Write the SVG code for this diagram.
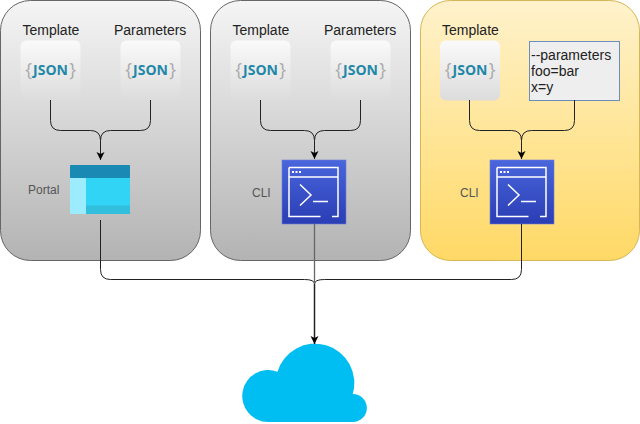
<svg xmlns="http://www.w3.org/2000/svg" xmlns:xlink="http://www.w3.org/1999/xlink" width="640" height="424" viewBox="0 0 640 424">
<style>
text{font-family:"Liberation Sans",Arial,sans-serif}
.lbl{font-size:14px;fill:#222}
.side{font-size:12px;fill:#555}
.panel{stroke:#666;stroke-width:1}
.card{fill:url(#gCard)}
.brace{font-family:"Open Sans",sans-serif;font-size:18px;fill:#aaa;text-anchor:middle}
.json{font-family:"Open Sans",sans-serif;font-size:14px;font-weight:700;fill:#1f87a8;text-anchor:middle}
.conn{fill:none;stroke:#222;stroke-width:1}
.w{fill:none;stroke:#fff;stroke-width:1.500}
</style>
<defs>
<linearGradient id="gGray" x1="0" y1="0" x2="0" y2="1"><stop offset="0" stop-color="#f5f5f5"/><stop offset="1" stop-color="#b3b3b3"/></linearGradient>
<linearGradient id="gYellow" x1="0" y1="0" x2="0" y2="1"><stop offset="0" stop-color="#fff2cc"/><stop offset="1" stop-color="#ffd966"/></linearGradient>
<linearGradient id="gCard" x1="0" y1="0" x2="0" y2="1"><stop offset="0" stop-color="#fafafa"/><stop offset="1" stop-color="#dcdcdc"/></linearGradient>
<linearGradient id="gCli" x1="0" y1="0" x2="0" y2="1"><stop offset="0" stop-color="#4a66dc"/><stop offset="1" stop-color="#2a3db4"/></linearGradient>
<marker id="arr" markerUnits="userSpaceOnUse" markerWidth="10" markerHeight="10" refX="9" refY="5" orient="auto"><path d="M1 1L9 5L1 9L3 5Z" fill="#000"/></marker>
<g id="jsonIcon">
<rect class="card" x="0" y="0" width="60" height="60" rx="6"/>
<text class="brace" x="8" y="35">{</text>
<text class="json" x="30" y="34.500">JSON</text>
<text class="brace" x="52" y="35">}</text>
</g>
<g id="cliIcon">
<rect width="64" height="64" fill="url(#gCli)" stroke="#6f7fd8" stroke-width="0.6"/>
<path class="w" d="M7 7.500H56V56.500H50M38.500 56.500H7V7.500M7 17H56"/>
<path fill="#fff" d="M10 11h2v2h-2zM13.500 11h2v2h-2zM17 11h2v2h-2z"/>
<path class="w" d="M18 24.500L29 35L18 45.500M31 41.500H46"/>
</g>
</defs>
<g id="panel-portal">
<rect class="panel" x="0.500" y="0.500" width="200" height="260" rx="30" fill="url(#gGray)"/>
<text class="lbl" x="22.500" y="35">Template</text>
<text class="lbl" x="114" y="35">Parameters</text>
<use xlink:href="#jsonIcon" x="20.500" y="40.500"/>
<use xlink:href="#jsonIcon" x="120.500" y="40.500"/>
<text class="side" x="28" y="194">Portal</text>
</g>
<g id="portal-icon">
<rect x="70" y="165" width="60" height="49" rx="1.500" fill="#32d4f5"/>
<rect x="70" y="205.500" width="60" height="8.500" fill="#32bedd"/>
<rect x="70" y="178" width="16" height="36" fill="#9cebff"/>
<rect x="70" y="165" width="60" height="13" rx="1" fill="#1a8ab5"/>
</g>
<g id="panel-cli">
<rect class="panel" x="210.500" y="0.500" width="200" height="260" rx="30" fill="url(#gGray)"/>
<text class="lbl" x="232.500" y="35">Template</text>
<text class="lbl" x="324" y="35">Parameters</text>
<use xlink:href="#jsonIcon" x="230.500" y="40.500"/>
<use xlink:href="#jsonIcon" x="330.500" y="40.500"/>
<text class="side" x="252" y="197">CLI</text>
<use xlink:href="#cliIcon" x="282" y="160"/>
</g>
<g id="panel-cli-params">
<rect x="420.500" y="0.500" width="219" height="260" rx="30" fill="url(#gYellow)" stroke="#d6b656"/>
<text class="lbl" x="442" y="35">Template</text>
<use xlink:href="#jsonIcon" x="440" y="40.500"/>
<rect x="529.500" y="41.500" width="90" height="59" fill="#eee" stroke="#6c8ebf"/>
<text class="lbl" x="531" y="60">--parameters</text>
<text class="lbl" x="531" y="76">foo=bar</text>
<text class="lbl" x="531" y="92">x=y</text>
<text class="side" x="460" y="197">CLI</text>
<use xlink:href="#cliIcon" x="490" y="160"/>
</g>
<g id="cloud">
<path fill="#00bef2" d="M268 422A26 26 0 1 1 277.500 371.700A39 39 0 0 1 352.700 394A14 14 0 0 1 353 422Z"/>
</g>
<g id="connectors">
<path class="conn" d="M50.500 100V120.500Q50.500 130.500 60.500 130.500H90.500Q100.500 130.500 100.500 140.500M150.500 100V120.500Q150.500 130.500 140.500 130.500H110.500Q100.500 130.500 100.500 140.500"/>
<path class="conn" d="M100.500 140.500V160" marker-end="url(#arr)"/>
<path class="conn" d="M260.500 100V120.500Q260.500 130.500 270.500 130.500H304.500Q314.500 130.500 314.500 140.500M360.500 100V120.500Q360.500 130.500 350.500 130.500H324.500Q314.500 130.500 314.500 140.500"/>
<path class="conn" d="M314.500 140.500V159" marker-end="url(#arr)"/>
<path class="conn" d="M469.500 100V120.500Q469.500 130.500 479.500 130.500H511.500Q521.500 130.500 521.500 140.500M574.500 100V120.500Q574.500 130.500 564.500 130.500H531.500Q521.500 130.500 521.500 140.500"/>
<path class="conn" d="M521.500 140.500V159" marker-end="url(#arr)"/>
<path class="conn" d="M100.500 220V269.500Q100.500 279.500 110.500 279.500H304.500Q314.500 279.500 314.500 284M521.500 224V269.500Q521.500 279.500 511.500 279.500H324.500Q314.500 279.500 314.500 284"/>
<path class="conn" d="M314.500 224V284" style="stroke:#666;stroke-width:1.300"/>
<path class="conn" d="M314.500 284V344" style="stroke-width:1.500" marker-end="url(#arr)"/>
</g>
</svg>
